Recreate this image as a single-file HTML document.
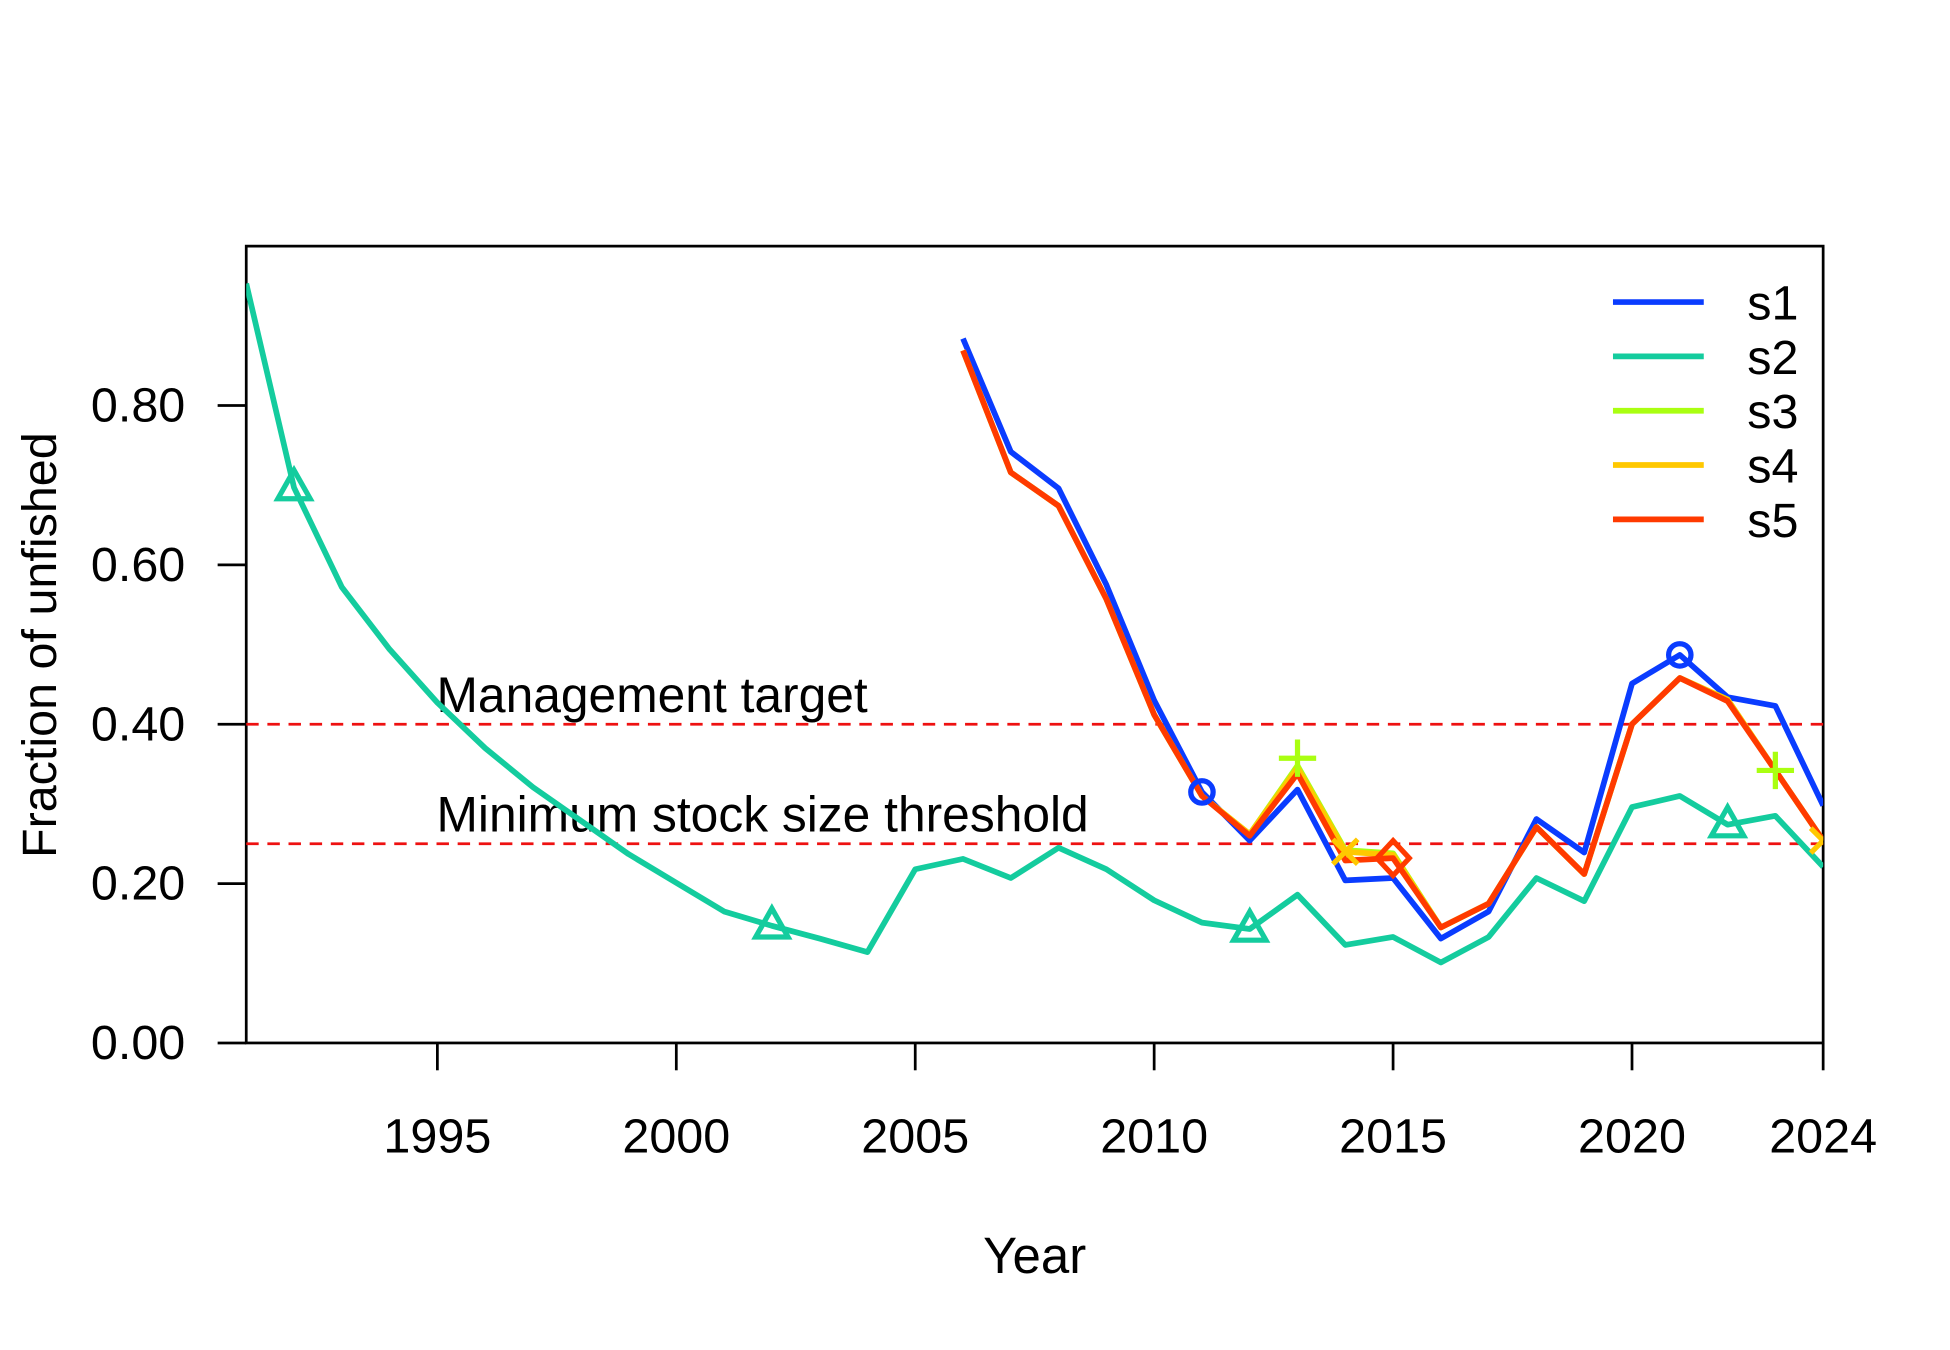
<!DOCTYPE html>
<html><head><meta charset="utf-8"><style>
html,body{margin:0;padding:0;background:#fff;}
svg{display:block;font-family:"Liberation Sans",Arial,sans-serif;}
</style></head><body>
<svg id="chart" width="1950" height="1350" viewBox="0 0 1568 1086" preserveAspectRatio="none" xmlns="http://www.w3.org/2000/svg">
<defs><clipPath id="clip"><rect x="198" y="198" width="1268" height="641"/></clipPath></defs>
<rect width="1568" height="1086" fill="#fff"/>
<g id="axes"></g>
<g id="plot"></g>
</svg>
<script>
const years2 = [1991,1992,1993,1994,1995,1996,1997,1998,1999,2000,2001,2002,2003,2004,2005,2006,2007,2008,2009,2010,2011,2012,2013,2014,2015,2016,2017,2018,2019,2020,2021,2022,2023,2024];
const s2 = [0.953,0.697,0.572,0.494,0.427,0.37,0.321,0.279,0.237,0.201,0.165,0.147,0.131,0.114,0.218,0.231,0.207,0.245,0.218,0.179,0.151,0.143,0.186,0.123,0.133,0.101,0.133,0.207,0.178,0.296,0.31,0.274,0.285,0.221];
const yearsB = [2006,2007,2008,2009,2010,2011,2012,2013,2014,2015,2016,2017,2018,2019,2020,2021,2022,2023,2024];
const s1 = [0.884,0.742,0.696,0.575,0.43,0.315,0.254,0.318,0.204,0.207,0.131,0.165,0.281,0.239,0.451,0.487,0.434,0.423,0.298];
const s3 = [0.869,0.716,0.674,0.557,0.412,0.31,0.262,0.348,0.242,0.238,0.145,0.175,0.271,0.212,0.40,0.458,0.431,0.342,0.254];
const s4 = [0.869,0.716,0.674,0.557,0.412,0.31,0.262,0.345,0.24,0.236,0.145,0.175,0.271,0.212,0.40,0.458,0.431,0.342,0.254];
const s5 = [0.869,0.716,0.674,0.557,0.412,0.31,0.26,0.338,0.229,0.232,0.145,0.175,0.271,0.212,0.40,0.458,0.429,0.342,0.254];
const xTicks = [1995,2000,2005,2010,2015,2020,2024];
const yTicks = [0,0.2,0.4,0.6,0.8];
const refValues = [0.4,0.25];
const refLabels = ["Management target","Minimum stock size threshold"];
const seriesNames = ["s1","s2","s3","s4","s5"];
const colors = ["#0A3CFF","#14CC9E","#AAFF11","#FFC800","#FF3A00"];

const NS="http://www.w3.org/2000/svg";
const L=198,R=1466,T=198,B=839;
const X=y=>L+(y-1991)/(2024-1991)*(R-L);
const Y=v=>B-v*(B-T);
function mk(tag,attrs,parent,txt){const e=document.createElementNS(NS,tag);for(const k in attrs)e.setAttribute(k,attrs[k]);if(txt!==undefined)e.textContent=txt;parent.appendChild(e);return e;}
const ax=document.getElementById('axes'), pl=document.getElementById('plot');

let e=mk('rect',{x:L,y:T,width:R-L,height:B-T,fill:'none',stroke:'#000','stroke-width':2.2},ax);


yTicks.forEach(v=>{
  let t=mk('line',{x1:175,x2:L,y1:Y(v),y2:Y(v),stroke:'#000','stroke-width':2.2},ax);
  
  
  let l=mk('text',{x:149,y:Y(v)+13,'text-anchor':'end','font-size':39},ax,v.toFixed(2));
  
  
});
xTicks.forEach(v=>{
  let t=mk('line',{x1:X(v),x2:X(v),y1:B,y2:861,stroke:'#000','stroke-width':2.2},ax);
  
  
  let l=mk('text',{x:X(v),y:927,'text-anchor':'middle','font-size':39},ax,String(v));
  
  
});
e=mk('text',{x:832,y:1024,'text-anchor':'middle','font-size':41},ax,'Year');


e=mk('text',{x:0,y:0,'text-anchor':'middle','font-size':39,transform:'translate(45,519) rotate(-90)'},ax,'Fraction of unfished');



refValues.forEach((v,i)=>{
  let d=mk('line',{x1:L,x2:R,y1:Y(v),y2:Y(v),stroke:'#EE1111','stroke-width':2.2,'stroke-dasharray':'10,7'},pl);
  
  
  let t=mk('text',{x:351,y:Y(v)-10,'font-size':40},pl,refLabels[i]);
  
  
});

const clipG=mk('g',{'clip-path':'url(#clip)'},pl);


function line(xs,vs,c,name){
  const p=mk('polyline',{points:xs.map((x,i)=>X(x)+','+Y(vs[i])).join(' '),fill:'none',stroke:c,'stroke-width':4.6,'stroke-linejoin':'round'},clipG);
  
  
}
line(years2,s2,colors[1],'line-s2');
line(yearsB,s1,colors[0],'line-s1');
line(yearsB,s3,colors[2],'line-s3');
line(yearsB,s4,colors[3],'line-s4');
line(yearsB,s5,colors[4],'line-s5');

function valAt(xs,vs,yr){const i=xs.indexOf(yr);return vs[i];}
function marker(type,cx,cy,c){
  let m;
  if(type==='circle') m=mk('circle',{cx,cy,r:9,fill:'none',stroke:c,'stroke-width':4.2},clipG);
  else if(type==='tri') m=mk('polygon',{points:`${cx},${cy-14} ${cx-13},${cy+9} ${cx+13},${cy+9}`,fill:'none',stroke:c,'stroke-width':4.2},clipG);
  else if(type==='plus') m=mk('path',{d:`M${cx-15},${cy}H${cx+15}M${cx},${cy-15}V${cy+15}`,stroke:c,'stroke-width':4.2},clipG);
  else if(type==='x') m=mk('path',{d:`M${cx-10},${cy-10}L${cx+10},${cy+10}M${cx-10},${cy+10}L${cx+10},${cy-10}`,stroke:c,'stroke-width':4.2},clipG);
  else m=mk('polygon',{points:`${cx},${cy-14} ${cx+13},${cy} ${cx},${cy+14} ${cx-13},${cy}`,fill:'none',stroke:c,'stroke-width':4.2},clipG);
  
  
}
[1992,2002,2012,2022].forEach(y=>marker('tri',X(y),Y(valAt(years2,s2,y)),colors[1]));
[2011,2021].forEach(y=>marker('circle',X(y),Y(valAt(yearsB,s1,y)),colors[0]));
[2013,2023].forEach(y=>marker('plus',X(y),Y(valAt(yearsB,s3,y))-(y===2013?6:0),colors[2]));
[2014,2024].forEach(y=>marker('x',X(y),Y(valAt(yearsB,s4,y)),colors[3]));
[2015].forEach(y=>marker('diamond',X(y),Y(valAt(yearsB,s5,y)),colors[4]));

seriesNames.forEach((n,i)=>{
  const y=243+i*43.7;
  let g=mk('line',{x1:1297,x2:1370,y1:y,y2:y,stroke:colors[i],'stroke-width':4.6},pl);
  
  
  let t=mk('text',{x:1405,y:y+14,'font-size':39},pl,n);
  
  
});
</script>
</body></html>
